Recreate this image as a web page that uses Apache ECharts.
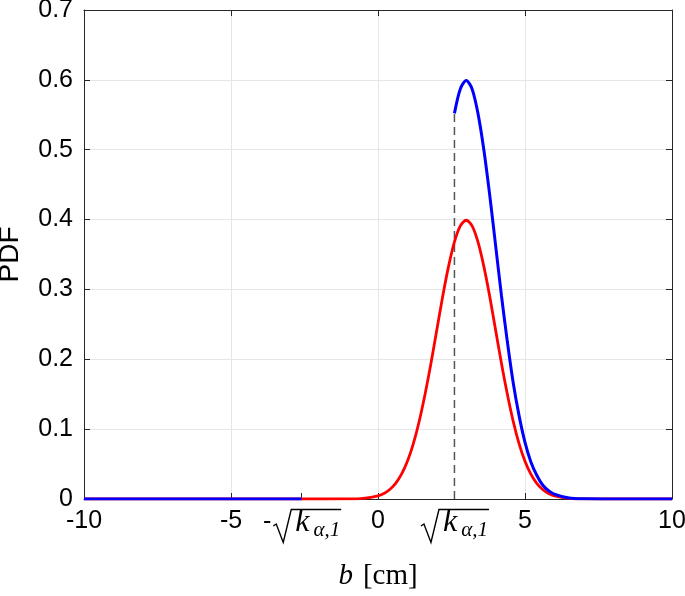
<!DOCTYPE html>
<html>
<head>
<meta charset="utf-8">
<script src="https://cdn.jsdelivr.net/npm/echarts@6/dist/echarts.min.js"></script>
<style>
  html, body { margin: 0; padding: 0; background: #fff; }
  #main { width: 685px; height: 596px; }
</style>
</head>
<body>
<div id="main"></div>
<script>
// values
var sqrtK = 2.6;
var xTickValues = [-5, -sqrtK, 0, sqrtK, 5];
var xLabelValues = [-10, -5, -sqrtK, 0, sqrtK, 5, 10];

var redX = [-10, -2.6, -1, -0.5, 0, 0.2, 0.4, 0.6, 0.8, 1.0, 1.2, 1.4, 1.6, 1.8, 2.0, 2.2, 2.4, 2.6, 2.8, 3.0,
            3.2, 3.4, 3.6, 3.8, 4.0, 4.2, 4.4, 4.6, 4.8, 5.0, 5.2, 5.4, 5.6, 5.8, 6.0, 6.5, 7, 8, 10];
var redY = [0, 0, 0.0001, 0.0009, 0.0044, 0.0079, 0.0136, 0.0224, 0.0355, 0.054, 0.079, 0.111, 0.150, 0.194, 0.242, 0.290, 0.333, 0.368, 0.391, 0.399,
            0.391, 0.368, 0.333, 0.290, 0.242, 0.194, 0.150, 0.111, 0.079, 0.054, 0.0355, 0.0224, 0.0136, 0.0079, 0.0044, 0.0009, 0.0001, 0, 0];

var blueLeftX = [-10, -2.6];
var blueLeftY = [0, 0];

var blueRightX = [2.6, 2.8, 3.0, 3.2, 3.4, 3.6, 3.8, 4.0, 4.2, 4.4, 4.6, 4.8, 5.0, 5.2, 5.4, 5.6, 5.8, 6.0, 6.5, 7, 8, 10];
var blueRightY = [0.552, 0.587, 0.599, 0.587, 0.552, 0.500, 0.435, 0.363, 0.291, 0.225, 0.166, 0.119, 0.081, 0.053, 0.034, 0.020, 0.012, 0.007, 0.0013, 0.0002, 0, 0];

var dashX = [2.6, 2.6];
var dashY = [0, 0.552];

function pairs(xs, ys) {
    var out = [];
    for (var i = 0; i < xs.length; i++) out.push([xs[i], ys[i]]);
    return out;
}

var axisColor = '#262626';
var gridColor = '#e6e6e6';

// fonts of the sqrt(k) tick labels, measured so the radical sign can be drawn around them
var tickFont = { family: 'Liberation Sans', size: 25 };
var kFont = { family: 'Liberation Serif', size: 32 };
var subFont = { family: 'Liberation Serif', size: 21 };
var radW = 21;      // room left for the radical sign
var kPad = 4;
var ctx = document.createElement('canvas').getContext('2d');
function textW(str, f, italic) {
    ctx.font = (italic ? 'italic ' : '') + f.size + 'px "' + f.family + '"';
    return ctx.measureText(str).width;
}
var wMinus = textW('-', tickFont, false) + 2;
var wK = textW('k', kFont, true) + kPad + 1;
var wSub = textW('α,1', subFont, true);

var myChart = echarts.init(document.getElementById('main'));

option = {
    animation: false,
    grid: { left: 84, right: 13, top: 10, bottom: 97, containLabel: false, outerBoundsMode: 'none' },
    xAxis: [{
        type: 'value',
        position: 'bottom',
        min: -10, max: 10,
        axisLine: { onZero: false, lineStyle: { color: axisColor, width: 1 } },
        axisTick: { inside: true, length: 6, customValues: xTickValues, lineStyle: { color: axisColor } },
        splitLine: { show: false },
        axisLabel: {
            customValues: xLabelValues,
            margin: 10,
            color: '#000',
            fontFamily: tickFont.family,
            fontSize: tickFont.size,
            formatter: function (v) {
                if (Math.abs(v - sqrtK) < 1e-6) return '{sp| }{k|k}{s|α,1}';
                if (Math.abs(v + sqrtK) < 1e-6) return '{m|-}{sp| }{k|k}{s|α,1}';
                return String(v);
            },
            rich: {
                m: { fontFamily: tickFont.family, fontSize: tickFont.size, color: '#000', lineHeight: 27, padding: [0, 2, 0, 0] },
                sp: { width: radW, fontSize: 10, lineHeight: 27 },
                k: { fontFamily: kFont.family, fontStyle: 'italic', fontSize: kFont.size, color: '#000', lineHeight: 27, padding: [0, kPad, 0, 1] },
                s: { fontFamily: subFont.family, fontStyle: 'italic', fontSize: subFont.size, color: '#000', lineHeight: 11, padding: [16, 0, 0, 0] }
            }
        },
        name: '{i|b}{n|[cm]}',
        nameLocation: 'middle',
        nameGap: 63,
        nameTextStyle: {
            rich: {
                i: { fontFamily: 'Liberation Serif', fontStyle: 'italic', fontSize: 29, color: '#000', padding: [0, 10, 0, 0] },
                n: { fontFamily: 'Liberation Serif', fontSize: 29, color: '#000' }
            }
        }
    }, {
        type: 'value',
        position: 'top',
        min: -10, max: 10, interval: 5,
        axisLine: { onZero: false, lineStyle: { color: axisColor, width: 1 } },
        axisTick: { inside: true, length: 6, lineStyle: { color: axisColor } },
        axisLabel: { show: false },
        splitLine: { show: true, lineStyle: { color: gridColor, width: 1 } }
    }],
    yAxis: [{
        type: 'value',
        position: 'left',
        min: 0, max: 0.7, interval: 0.1,
        axisLine: { show: true, onZero: false, lineStyle: { color: axisColor, width: 1 } },
        axisTick: { show: true, inside: true, length: 6, lineStyle: { color: axisColor } },
        splitLine: { show: true, lineStyle: { color: gridColor, width: 1 } },
        axisLabel: { color: '#000', fontFamily: tickFont.family, fontSize: tickFont.size, margin: 11 },
        name: 'PDF',
        nameLocation: 'middle',
        nameGap: 60,
        nameTextStyle: { color: '#000', fontFamily: 'Liberation Sans', fontSize: 28 }
    }, {
        type: 'value',
        position: 'right',
        min: 0, max: 0.7, interval: 0.1,
        axisLine: { show: true, onZero: false, lineStyle: { color: axisColor, width: 1 } },
        axisTick: { show: true, inside: true, length: 6, lineStyle: { color: axisColor } },
        axisLabel: { show: false },
        splitLine: { show: false }
    }],
    series: [{
        type: 'line',
        name: 'red',
        data: pairs(redX, redY),
        showSymbol: false,
        smooth: 0.3,
        z: 3,
        lineStyle: { color: '#ff0000', width: 2.8 }
    }, {
        type: 'line',
        name: 'blueLeft',
        data: pairs(blueLeftX, blueLeftY),
        showSymbol: false,
        z: 4,
        lineStyle: { color: '#0000ff', width: 3 }
    }, {
        type: 'line',
        name: 'blueRight',
        data: pairs(blueRightX, blueRightY),
        showSymbol: false,
        smooth: 0.3,
        z: 4,
        lineStyle: { color: '#0000ff', width: 3 }
    }, {
        type: 'line',
        name: 'dash',
        data: pairs(dashX, dashY),
        showSymbol: false,
        z: 2,
        lineStyle: { color: '#555555', width: 1.5, type: [8, 5] }
    }]
};
myChart.setOption(option);

// radical signs of the sqrt(k) labels, placed from the axis scale
var y0 = myChart.convertToPixel({ yAxisIndex: 0 }, 0);
function radical(xs, xe) {
    return {
        type: 'polyline', silent: true, z: 10,
        shape: { points: [
            [xs, y0 + 27], [xs + 3, y0 + 25], [xs + 10, y0 + 43.5],
            [xs + radW - 3, y0 + 10.5], [xe, y0 + 10.5]
        ] },
        style: { stroke: '#000', lineWidth: 1.4, fill: null, lineJoin: 'miter' }
    };
}
var pPos = myChart.convertToPixel({ xAxisIndex: 0 }, sqrtK);
var pNeg = myChart.convertToPixel({ xAxisIndex: 0 }, -sqrtK);
var wPos = radW + wK + wSub;
var wNeg = wMinus + wPos;
var sPos = pPos - wPos / 2;
var sNeg = pNeg - wNeg / 2 + wMinus;
myChart.setOption({
    graphic: [radical(sPos, sPos + wPos + 1), radical(sNeg, sNeg + wPos + 1)]
});
</script>
</body>
</html>
